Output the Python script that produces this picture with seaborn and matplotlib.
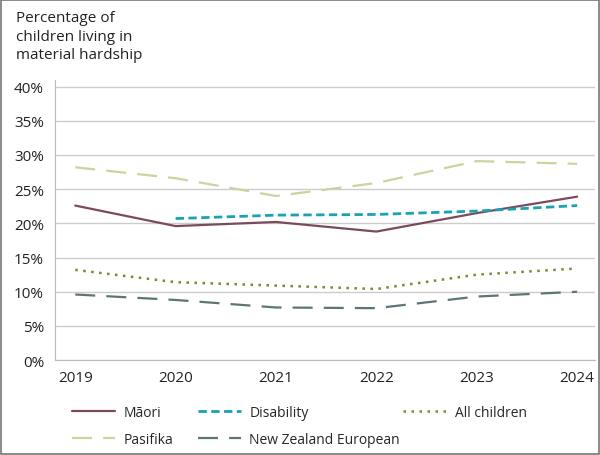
import seaborn as sns
import matplotlib.pyplot as plt
import pandas as pd
from matplotlib.patches import Rectangle

sns.set_style("white")
plt.rcParams['font.family'] = ['Open Sans', 'DejaVu Sans']

years = [2019, 2020, 2021, 2022, 2023, 2024]
maori = [22.6, 19.6, 20.2, 18.8, 21.5, 23.9]
disability = [None, 20.7, 21.2, 21.3, 21.8, 22.6]
all_children = [13.2, 11.4, 10.9, 10.4, 12.5, 13.4]
pasifika = [28.2, 26.6, 24.0, 25.9, 29.1, 28.7]
nz_european = [9.6, 8.8, 7.7, 7.6, 9.3, 10.0]

# name, values, colour, dashes, width
series = [
    ("Māori", maori, "#7b4b5c", (None, None), 1.6),
    ("Pasifika", pasifika, "#c6d69c", (9, 5), 1.6),
    ("Disability", disability, "#1aa2b4", (3, 1.6), 2.0),
    ("New Zealand European", nz_european, "#5e7575", (9, 5), 1.6),
    ("All children", all_children, "#7a8a2e", (1, 2.2), 1.8),
]

fig = plt.figure(figsize=(6, 4.56), dpi=100)
ax = fig.add_axes([0.092, 0.208, 0.9, 0.615])

for name, vals, col, dash, lw in series:
    df = pd.DataFrame({"year": years, "value": vals}).dropna()
    sns.lineplot(x="year", y="value", data=df, ax=ax, color=col, lw=lw,
                 marker="o", markersize=5, markeredgewidth=0, label=name)
    line = ax.get_lines()[-1]
    if dash[0] is not None:
        line.set_dashes(dash)

ax.set_xlim(2018.8, 2024.18)
ax.set_ylim(0, 41)
ax.set_yticks(range(0, 41, 5))
ax.set_yticklabels([f"{v}%" for v in range(0, 41, 5)])
ax.set_xticks(years)
ax.set(xlabel="", ylabel="")
ax.yaxis.grid(True, color="#cccccc", lw=1)
ax.tick_params(labelsize=11, colors="#222222", length=0)
ax.tick_params(axis="y", pad=8)
ax.tick_params(axis="x", pad=7)
for s in ["top", "right"]:
    ax.spines[s].set_visible(False)
ax.spines["left"].set_color("#bbbbbb")
ax.spines["bottom"].set_color("#bbbbbb")

handles, labels = ax.get_legend_handles_labels()
ax.get_legend().remove()
for h in handles:
    h.set_marker("")

# three legend columns placed like the original
groups = [([0, 1], 0.12), ([2, 3], 0.33), ([4], 0.672)]
for idx, x0 in groups:
    lg = fig.legend([handles[i] for i in idx], [labels[i] for i in idx],
                    loc="upper left", bbox_to_anchor=(x0, 0.11),
                    frameon=False, fontsize=10, handlelength=3.1,
                    handletextpad=0.6, labelspacing=0.9, borderpad=0,
                    borderaxespad=0)

fig.text(0.027, 0.975, "Percentage of\nchildren living in\nmaterial hardship",
         fontsize=11, va="top", ha="left", color="#222222", linespacing=1.3)

fig.patches.append(Rectangle((0.002, 0.002), 0.996, 0.996, transform=fig.transFigure,
                             fill=False, edgecolor="#777777", lw=1.2))

fig.savefig("out.png", dpi=100)
